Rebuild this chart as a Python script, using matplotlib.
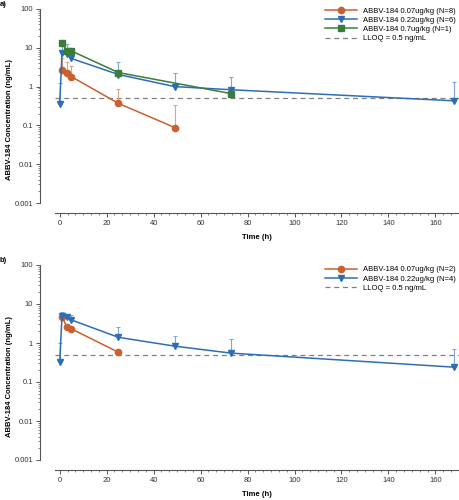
import matplotlib
matplotlib.use("Agg")
import matplotlib.pyplot as plt
from matplotlib.ticker import LogLocator, FixedLocator, FuncFormatter, AutoMinorLocator, NullFormatter

plt.rcParams['font.family'] = ['Liberation Sans', 'DejaVu Sans']

# panel a data
time_a_low = [1, 3, 5, 25, 49]
conc_a_low = [2.75, 2.3, 1.8, 0.37, 0.088]
upper_a_low = [5.6, 4.2, 3.3, 0.88, 0.34]

time_a_mid = [0, 1, 3, 5, 25, 49, 73, 168]
conc_a_mid = [0.36, 7.5, 7.0, 5.3, 2.05, 1.0, 0.83, 0.43]
upper_a_mid = [1.27, 12.5, 12.8, 8.5, 4.2, 2.3, 1.8, 1.35]

time_a_high = [1, 3, 5, 25, 73]
conc_a_high = [13.5, 8.5, 8.3, 2.3, 0.66]

# panel b data
time_b_low = [1, 3, 5, 25]
conc_b_low = [4.7, 2.6, 2.3, 0.58]

time_b_mid = [0, 1, 3, 5, 25, 49, 73, 168]
conc_b_mid = [0.32, 5.0, 4.6, 3.9, 1.4, 0.83, 0.55, 0.24]
upper_b_mid = [1.0, 6.3, 5.3, 5.2, 2.6, 1.5, 1.27, 0.7]

lloq = 0.5
y_ticks = [0.001, 0.01, 0.1, 1, 10, 100]
x_ticks = [0, 20, 40, 60, 80, 100, 120, 140, 160]

c_orange = "#C9602E"
c_blue = "#2E6DB4"
c_green = "#3A7D3A"
c_orange_err = "#E4A27F"
c_blue_err = "#7FA6D6"

fig = plt.figure(figsize=(4.59, 5.0), dpi=100)
ax_a = fig.add_axes([0.1198, 0.594, 0.880, 0.388])
ax_b = fig.add_axes([0.1198, 0.080, 0.880, 0.390])


def upper_bar(ax, t, mean, upper, color):
    err = [u - m for m, u in zip(mean, upper)]
    ax.errorbar(t, mean, yerr=[[0] * len(err), err], fmt="none", ecolor=color,
                elinewidth=0.8, capsize=1.5, capthick=0.8, zorder=2)


def style(ax):
    ax.set_yscale("log")
    ax.set_ylim(0.001, 100)
    ax.set_xlim(-2, 170)
    ax.spines["top"].set_visible(False)
    ax.spines["right"].set_visible(False)
    ax.spines["left"].set_position(("outward", 10.8))
    ax.spines["bottom"].set_position(("outward", 7.2))
    for s in ["left", "bottom"]:
        ax.spines[s].set_color("#555555")
        ax.spines[s].set_linewidth(0.8)
    ax.yaxis.set_major_locator(FixedLocator(y_ticks))
    ax.yaxis.set_major_formatter(FuncFormatter(lambda v, p: "%g" % v))
    ax.yaxis.set_minor_locator(LogLocator(base=10, subs=range(2, 10)))
    ax.yaxis.set_minor_formatter(NullFormatter())
    ax.xaxis.set_major_locator(FixedLocator(x_ticks))
    ax.xaxis.set_minor_locator(AutoMinorLocator(6))
    ax.tick_params(which="major", labelsize=5.5, length=3, width=0.7,
                   color="#555555", labelcolor="#333333", pad=2)
    ax.tick_params(which="minor", length=1.6, width=0.5, color="#555555")
    ax.set_ylabel("ABBV-184 Concentration (ng/mL)", fontsize=5.5,
                  fontweight="bold")
    ax.yaxis.set_label_coords(-0.103, 0.43)
    ax.set_xlabel("Time (h)", fontsize=5.5, fontweight="bold", labelpad=5)
    ax.patch.set_alpha(0)


# panel a
upper_bar(ax_a, time_a_low, conc_a_low, upper_a_low, c_orange_err)
upper_bar(ax_a, time_a_mid, conc_a_mid, upper_a_mid, c_blue_err)
ax_a.plot(time_a_low, conc_a_low, color=c_orange, marker="o", markersize=4.5,
          linewidth=1.1, label="ABBV-184 0.07ug/kg (N=8)", zorder=3)
ax_a.plot(time_a_mid, conc_a_mid, color=c_blue, marker="v", markersize=4,
          linewidth=1.1, label="ABBV-184 0.22ug/kg (N=6)", zorder=3)
ax_a.plot(time_a_high, conc_a_high, color=c_green, marker="s", markersize=4.5,
          linewidth=1.1, label="ABBV-184 0.7ug/kg (N=1)", zorder=4)
ax_a.axhline(lloq, color="#808080", linestyle=(0, (4, 3)), linewidth=0.9,
             label="LLOQ = 0.5 ng/mL", zorder=1)
style(ax_a)
ax_a.legend(loc="upper right", bbox_to_anchor=(1.0, 1.025), frameon=False,
            fontsize=5.5, handlelength=4.2, handletextpad=0.8, labelspacing=0.25,
            borderaxespad=0)

# panel b
upper_bar(ax_b, time_b_mid, conc_b_mid, upper_b_mid, c_blue_err)
ax_b.plot(time_b_low, conc_b_low, color=c_orange, marker="o", markersize=4.5,
          linewidth=1.1, label="ABBV-184 0.07ug/kg (N=2)", zorder=3)
ax_b.plot(time_b_mid, conc_b_mid, color=c_blue, marker="v", markersize=4,
          linewidth=1.1, label="ABBV-184 0.22ug/kg (N=4)", zorder=3)
ax_b.axhline(lloq, color="#808080", linestyle=(0, (4, 3)), linewidth=0.9,
             label="LLOQ = 0.5 ng/mL", zorder=1)
style(ax_b)
ax_b.legend(loc="upper right", bbox_to_anchor=(1.0, 1.01), frameon=False,
            fontsize=5.5, handlelength=4.2, handletextpad=0.8, labelspacing=0.25,
            borderaxespad=0)

fig.text(0.0, 0.992, "a)", fontsize=5.5, fontweight="bold", va="center")
fig.text(0.0, 0.478, "b)", fontsize=5.5, fontweight="bold", va="center")

fig.savefig("out.png", dpi=100)
